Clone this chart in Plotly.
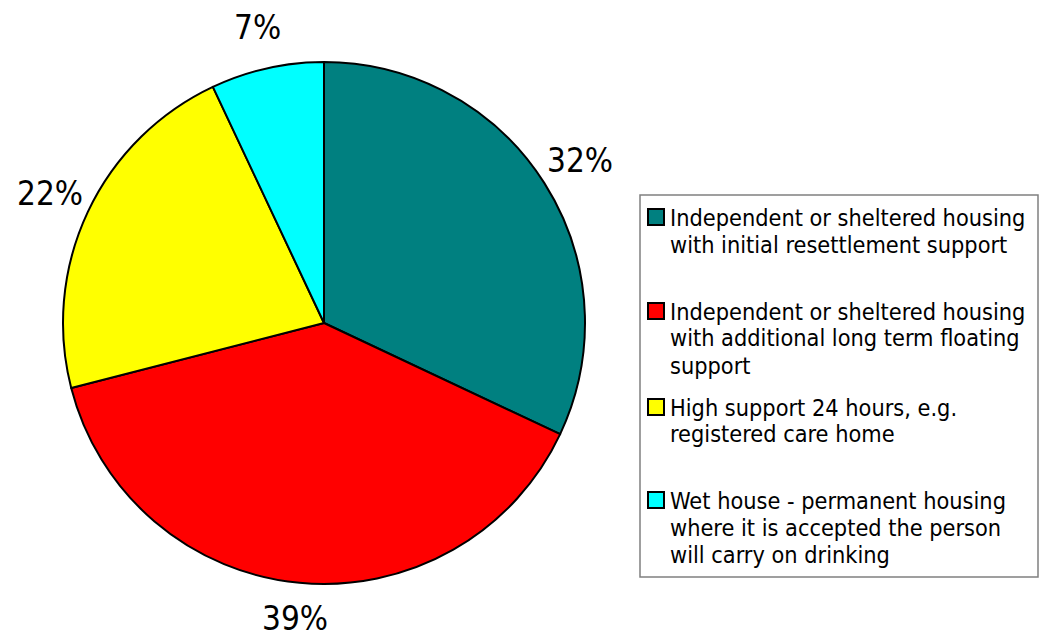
import numpy as np
import plotly.graph_objects as go

# Housing outcome shares (percent)
categories = [
    "Independent or sheltered housing with initial resettlement support",
    "Independent or sheltered housing with additional long term floating support",
    "High support 24 hours, e.g. registered care home",
    "Wet house - permanent housing where it is accepted the person will carry on drinking",
]
values = [32, 39, 22, 7]
colors = ["#008080", "#FF0000", "#FFFF00", "#00FFFF"]

# Legend text, wrapped as displayed
legend_lines = [
    ["Independent or sheltered housing", "with initial resettlement support"],
    ["Independent or sheltered housing", "with additional long term floating", "support"],
    ["High support 24 hours, e.g.", "registered care home"],
    ["Wet house - permanent housing", "where it is accepted the person", "will carry on drinking"],
]

W, H = 1039, 641
LEG_FONT = "DejaVu Sans Condensed, DejaVu Sans, sans-serif"
LAB_FONT = "DejaVu Sans Condensed, DejaVu Sans, sans-serif"
LAB_SIZE = 33

# Pie geometry in pixels
cx, cy, R = 324, 323, 261

fig = go.Figure()
fig.add_trace(go.Pie(
    labels=categories,
    values=values,
    sort=False,
    direction="clockwise",
    rotation=0,
    textinfo="none",
    hoverinfo="label+percent",
    marker=dict(colors=colors, line=dict(color="#000000", width=2)),
    domain=dict(x=[(cx - R) / W, (cx + R) / W], y=[(H - cy - R) / H, (H - cy + R) / H]),
    showlegend=False,
))

annotations = []
shapes = []

# Percentage labels placed outside each slice at its mid angle,
# kept inside the figure area
frac = np.array(values, dtype=float) / np.sum(values)
mids = (np.cumsum(frac) - frac / 2) * 2 * np.pi
r_lab = 303
half_box = LAB_SIZE * 0.68
for v, a in zip(values, mids):
    px = cx + r_lab * np.sin(a)
    py = cy - r_lab * np.cos(a)
    py = min(max(py, half_box), H - half_box)
    annotations.append(dict(
        x=px / W, y=1 - py / H, xref="paper", yref="paper",
        text=f"{v}%", showarrow=False, xanchor="center", yanchor="middle",
        borderpad=0,
        font=dict(family=LAB_FONT, size=LAB_SIZE, color="#000000"),
    ))

# Legend box
lx0, ly0, lx1, ly1 = 640, 195, 1038, 577
shapes.append(dict(type="rect", xref="paper", yref="paper",
                   x0=lx0 / W, x1=lx1 / W, y0=1 - ly1 / H, y1=1 - ly0 / H,
                   line=dict(color="#808080", width=1.5), fillcolor="rgba(0,0,0,0)"))

item_top = [209, 303, 399, 492]   # top of each swatch (px)
sw = 16
line_gap = 27
for i, (lines, col) in enumerate(zip(legend_lines, colors)):
    t = item_top[i]
    shapes.append(dict(type="rect", xref="paper", yref="paper",
                       x0=648 / W, x1=(648 + sw) / W,
                       y0=1 - (t + sw) / H, y1=1 - t / H,
                       fillcolor=col, line=dict(color="#000000", width=2)))
    for j, txt in enumerate(lines):
        ymid = t + sw / 2 + j * line_gap
        annotations.append(dict(
            x=668 / W, y=1 - ymid / H, xref="paper", yref="paper",
            text=txt, showarrow=False, xanchor="left", yanchor="middle",
            font=dict(family=LEG_FONT, size=23.3, color="#000000"),
        ))

fig.update_layout(
    width=W, height=H,
    margin=dict(l=0, r=0, t=0, b=0),
    paper_bgcolor="#FFFFFF", plot_bgcolor="#FFFFFF",
    annotations=annotations, shapes=shapes,
    showlegend=False,
)

fig.write_html("out.html")
